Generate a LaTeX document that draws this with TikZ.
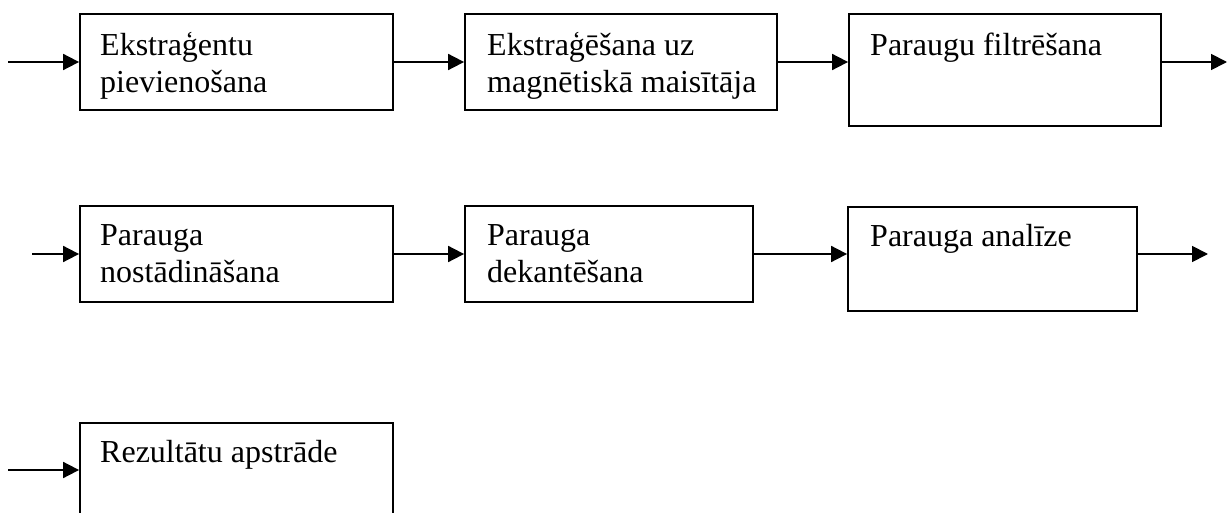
\documentclass[tikz,border=0pt]{standalone}
\usepackage{fontspec}
\setmainfont{Liberation Serif}
\usetikzlibrary{arrows.meta}
\newcommand{\fl}{\rule{0pt}{24pt}}
\tikzset{
  box/.style={draw, line width=1.8pt, inner sep=0pt, rectangle},
  lbl/.style={anchor=north west, inner sep=0pt, align=left,
    font=\fontsize{32pt}{37pt}\selectfont},
  flow/.style={line width=1.8pt, -{Triangle[length=16pt,width=16pt]}}
}
\begin{document}
\begin{tikzpicture}[x=1pt,y=-1pt]
\useasboundingbox (0,0) rectangle (1227,513);
\clip (0,0) rectangle (1227,513);
% boxes
\node[box, minimum width=313pt, minimum height=96pt] (b1) at (236.5,62) {};
\node[box, minimum width=312pt, minimum height=96pt] (b2) at (621,62) {};
\node[box, minimum width=312pt, minimum height=112pt] (b3) at (1005,70) {};
\node[box, minimum width=313pt, minimum height=96pt] (b4) at (236.5,254) {};
\node[box, minimum width=288pt, minimum height=96pt] (b5) at (609,254) {};
\node[box, minimum width=289pt, minimum height=104pt] (b6) at (992.5,259) {};
\node[box, minimum width=313pt, minimum height=107pt] (b7) at (236.5,476.5) {};
% labels
\node[lbl] (t1) at (100,31) {\fl Ekstraģentu\\pievienošana};
\node[lbl] (t2) at (487,31) {\fl Ekstraģēšana uz\\magnētiskā maisītāja};
\node[lbl] (t3) at (870,31) {\fl Paraugu filtrēšana};
\node[lbl] (t4) at (100,221) {\fl Parauga\\nostādināšana};
\node[lbl] (t5) at (487,221) {\fl Parauga\\dekantēšana};
\node[lbl] (t6) at (870,222) {\fl Parauga analīze};
\node[lbl] (t7) at (100,438) {\fl Rezultātu apstrāde};
% free ends
\coordinate (in1) at (8,62);
\coordinate (out1) at (1227,62);
\coordinate (in2) at (32,254);
\coordinate (out2) at (1208,254);
\coordinate (in3) at (8,470);
% connectors
\draw[flow] (in1) -- (b1.west);
\draw[flow] (b1.east) -- (b2.west);
\draw[flow] (b2.east) -- (b2.east -| b3.west);
\draw[flow] (b2.east -| b3.east) -- (out1);
\draw[flow] (in2) -- (b4.west);
\draw[flow] (b4.east) -- (b5.west);
\draw[flow] (b5.east) -- (b5.east -| b6.west);
\draw[flow] (b5.east -| b6.east) -- (out2);
\draw[flow] (in3) -- (in3 -| b7.west);
\end{tikzpicture}
\end{document}
